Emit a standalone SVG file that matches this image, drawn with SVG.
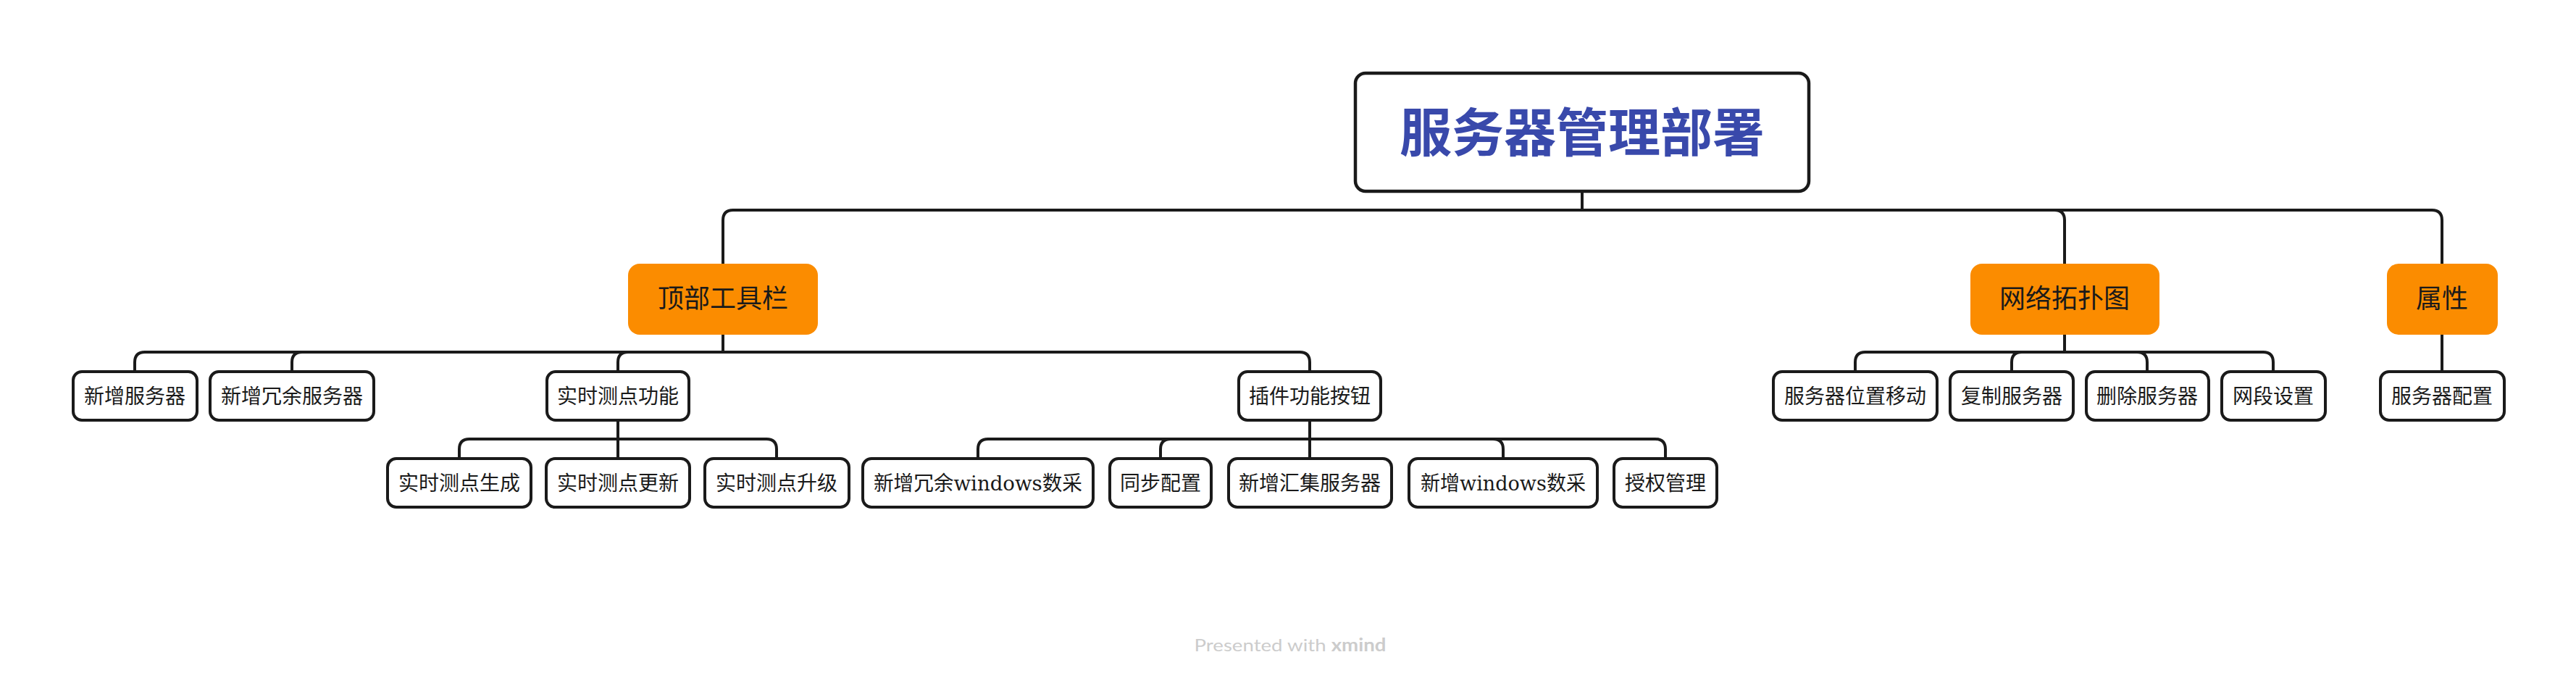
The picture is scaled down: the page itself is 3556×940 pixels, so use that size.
<svg xmlns="http://www.w3.org/2000/svg" width="3556" height="940" viewBox="0 0 3556 940">
<style>
.bg{fill:#ffffff}
.box{fill:#ffffff;stroke:#1a1a1a;stroke-width:4}
.root{fill:#ffffff;stroke:#1a1a1a;stroke-width:4.5}
.org{fill:#FB8C00}
.t{font-family:"Noto Sans CJK SC","Noto Sans",sans-serif;font-size:28px;fill:#1a1a1a;text-anchor:middle}
.t1{font-family:"Noto Sans CJK SC","Noto Sans",sans-serif;font-size:36px;fill:#1a1a1a;text-anchor:middle}
.t0{font-family:"Noto Sans CJK SC","Noto Sans",sans-serif;font-size:72px;font-weight:bold;fill:#3949AB;text-anchor:middle}
.ser{font-family:"DejaVu Serif","Liberation Serif",serif}
.ln{fill:none;stroke:#1a1a1a;stroke-width:4;stroke-linecap:round;stroke-linejoin:round}
.ft{font-family:Lato,"Open Sans",sans-serif;font-size:24px;fill:#cccccc;text-anchor:middle}
</style>
<rect class="bg" x="0" y="0" width="3556" height="940"/>
<g id="connectors">
<path class="ln" d="M2184,264 V290"/>
<path class="ln" d="M2184,290 H1012 Q998,290 998,304 V364"/>
<path class="ln" d="M2184,290 H2836 Q2850,290 2850,304 V364"/>
<path class="ln" d="M2184,290 H3357 Q3371,290 3371,304 V364"/>
<path class="ln" d="M998,462 V486"/>
<path class="ln" d="M998,486 H200 Q186,486 186,500 V513"/>
<path class="ln" d="M998,486 H417 Q403,486 403,500 V513"/>
<path class="ln" d="M998,486 H867 Q853,486 853,500 V513"/>
<path class="ln" d="M998,486 H1794 Q1808,486 1808,500 V513"/>
<path class="ln" d="M853,580 V633"/>
<path class="ln" d="M853,606 H648 Q634,606 634,620 V633"/>
<path class="ln" d="M853,606 H1058 Q1072,606 1072,620 V633"/>
<path class="ln" d="M1808,580 V633"/>
<path class="ln" d="M1808,606 H1364 Q1350,606 1350,620 V633"/>
<path class="ln" d="M1808,606 H1616 Q1602,606 1602,620 V633"/>
<path class="ln" d="M1808,606 H2061 Q2075,606 2075,620 V633"/>
<path class="ln" d="M1808,606 H2285 Q2299,606 2299,620 V633"/>
<path class="ln" d="M2850,462 V486"/>
<path class="ln" d="M2850,486 H2575 Q2561,486 2561,500 V513"/>
<path class="ln" d="M2850,486 H2791 Q2777,486 2777,500 V513"/>
<path class="ln" d="M2850,486 H2950 Q2964,486 2964,500 V513"/>
<path class="ln" d="M2850,486 H3124 Q3138,486 3138,500 V513"/>
<path class="ln" d="M3371,462 V513"/>
</g>
<g id="root"><rect class="root" x="1871" y="101" width="626" height="163" rx="14"/><text class="t0" x="2184" y="209">服务器管理部署</text></g>
<g id="toolbar"><rect class="org" x="867" y="364" width="262" height="98" rx="16"/><text class="t1" x="998" y="425">顶部工具栏</text></g>
<g id="topology"><rect class="org" x="2720" y="364" width="261" height="98" rx="16"/><text class="t1" x="2850" y="425">网络拓扑图</text></g>
<g id="props"><rect class="org" x="3295" y="364" width="153" height="98" rx="16"/><text class="t1" x="3371" y="425">属性</text></g>
<g id="n-add"><rect class="box" x="101" y="513" width="171" height="67" rx="12"/><text class="t" x="186" y="557">新增服务器</text></g>
<g id="n-addred"><rect class="box" x="290" y="513" width="226" height="67" rx="12"/><text class="t" x="403" y="557">新增冗余服务器</text></g>
<g id="n-rt"><rect class="box" x="755" y="513" width="196" height="67" rx="12"/><text class="t" x="853" y="557">实时测点功能</text></g>
<g id="n-plugin"><rect class="box" x="1710" y="513" width="196" height="67" rx="12"/><text class="t" x="1808" y="557">插件功能按钮</text></g>
<g id="n-rt-gen"><rect class="box" x="535" y="633" width="198" height="67" rx="12"/><text class="t" x="634" y="677">实时测点生成</text></g>
<g id="n-rt-upd"><rect class="box" x="754" y="633" width="198" height="67" rx="12"/><text class="t" x="853" y="677">实时测点更新</text></g>
<g id="n-rt-upg"><rect class="box" x="973" y="633" width="199" height="67" rx="12"/><text class="t" x="1072" y="677">实时测点升级</text></g>
<g id="n-p1"><rect class="box" x="1191" y="633" width="318" height="67" rx="12"/><text class="t" x="1350" y="677" textLength="288" lengthAdjust="spacingAndGlyphs">新增冗余<tspan class="ser">windows</tspan>数采</text></g>
<g id="n-p2"><rect class="box" x="1532" y="633" width="140" height="67" rx="12"/><text class="t" x="1602" y="677">同步配置</text></g>
<g id="n-p3"><rect class="box" x="1696" y="633" width="225" height="67" rx="12"/><text class="t" x="1808" y="677">新增汇集服务器</text></g>
<g id="n-p4"><rect class="box" x="1945" y="633" width="260" height="67" rx="12"/><text class="t" x="2075" y="677" textLength="228" lengthAdjust="spacingAndGlyphs">新增<tspan class="ser">windows</tspan>数采</text></g>
<g id="n-p5"><rect class="box" x="2228" y="633" width="142" height="67" rx="12"/><text class="t" x="2299" y="677">授权管理</text></g>
<g id="n-t1"><rect class="box" x="2448" y="513" width="226" height="67" rx="12"/><text class="t" x="2561" y="557">服务器位置移动</text></g>
<g id="n-t2"><rect class="box" x="2692" y="513" width="170" height="67" rx="12"/><text class="t" x="2777" y="557">复制服务器</text></g>
<g id="n-t3"><rect class="box" x="2880" y="513" width="169" height="67" rx="12"/><text class="t" x="2964" y="557">删除服务器</text></g>
<g id="n-t4"><rect class="box" x="3067" y="513" width="143" height="67" rx="12"/><text class="t" x="3138" y="557">网段设置</text></g>
<g id="n-a1"><rect class="box" x="3286" y="513" width="171" height="67" rx="12"/><text class="t" x="3371" y="557">服务器配置</text></g>
<text class="ft" x="1781" y="899" textLength="265" lengthAdjust="spacingAndGlyphs">Presented with <tspan font-weight="bold">xmind</tspan></text>
</svg>
